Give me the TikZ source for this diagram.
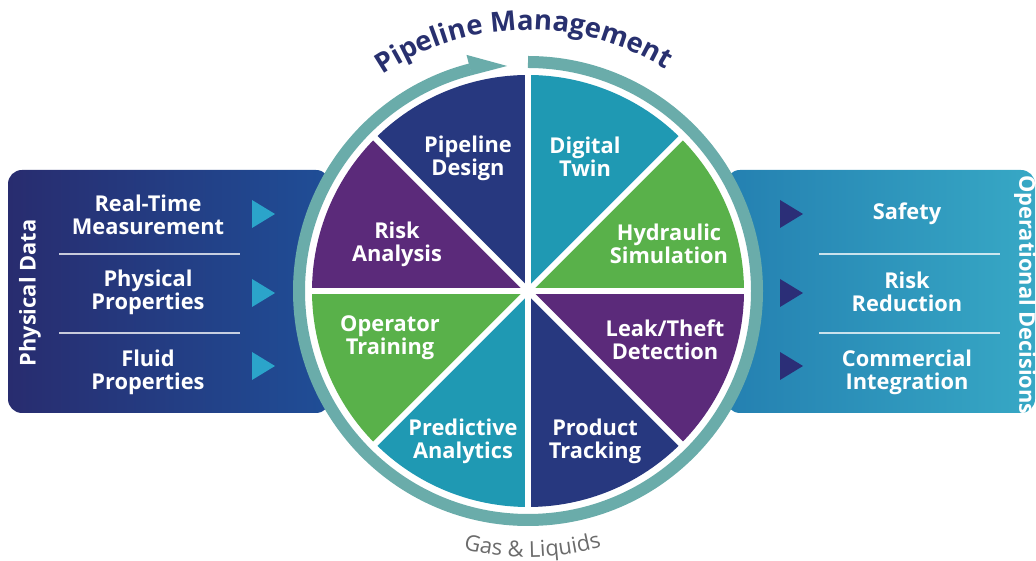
\documentclass[tikz,border=0pt]{standalone}
\usepackage{fontspec}
\setmainfont{Open Sans}
\usetikzlibrary{calc,decorations.text}
\definecolor{navy}{HTML}{27387F}
\definecolor{purp}{HTML}{5B2A7A}
\definecolor{grn}{HTML}{59B14A}
\definecolor{teal}{HTML}{1F99B3}
\definecolor{ring}{HTML}{6AACAA}
\definecolor{lpL}{HTML}{282C6F}
\definecolor{lpR}{HTML}{1F4E97}
\definecolor{rpL}{HTML}{2480B1}
\definecolor{rpR}{HTML}{37A8C5}
\definecolor{ltri}{HTML}{2BA4CA}
\definecolor{rtri}{HTML}{2B2E77}
\definecolor{titlenavy}{HTML}{28306F}
\definecolor{gasgray}{HTML}{6B6B6B}
\begin{document}
\begin{tikzpicture}[x=1pt,y=1pt,
  lbl/.style={text=white,font=\bfseries\fontsize{21.8}{23}\selectfont,align=center,inner sep=0pt},
  sidelbl/.style={text=white,font=\bfseries\fontsize{21.8}{23}\selectfont,align=center,inner sep=0pt},
  sep/.style={white,opacity=0.75,line width=1.3pt},
  gap/.style={white,line width=6pt},
  ringline/.style={ring,line width=12pt}]
\useasboundingbox (0,0) rectangle (1036,561);
\coordinate (C) at (528,270);
% side panels
\shade[left color=lpL,right color=lpR,rounded corners=14pt] (8,148) rectangle (330,391);
\shade[left color=rpL,right color=rpR,rounded corners=14pt] (726,148) rectangle (1035,391);
% white disk and ring
\fill[white] (C) circle[radius=224];
\draw[ringline] ($(C)+(90:229)$) arc[start angle=90,end angle=-255.5,radius=229];
\fill[ring] ($(C)+(104.6:223)$) -- ($(C)+(104.6:244)$) -- ($(C)+(95.3:226)$) -- cycle;
% sectors
\fill[navy] (C) -- ($(C)+(90:216)$) arc[start angle=90,end angle=135,radius=216] -- cycle;
\fill[purp] (C) -- ($(C)+(135:216)$) arc[start angle=135,end angle=180,radius=216] -- cycle;
\fill[grn] (C) -- ($(C)+(180:216)$) arc[start angle=180,end angle=225,radius=216] -- cycle;
\fill[teal] (C) -- ($(C)+(225:216)$) arc[start angle=225,end angle=270,radius=216] -- cycle;
\fill[navy] (C) -- ($(C)+(270:216)$) arc[start angle=270,end angle=315,radius=216] -- cycle;
\fill[purp] (C) -- ($(C)+(315:216)$) arc[start angle=315,end angle=360,radius=216] -- cycle;
\fill[grn] (C) -- ($(C)+(0:216)$) arc[start angle=0,end angle=45,radius=216] -- cycle;
\fill[teal] (C) -- ($(C)+(45:216)$) arc[start angle=45,end angle=90,radius=216] -- cycle;
\draw[gap] ($(C)+(0:218)$) -- ($(C)+(180:218)$);
\draw[gap] ($(C)+(45:218)$) -- ($(C)+(225:218)$);
\draw[gap] ($(C)+(90:218)$) -- ($(C)+(270:218)$);
\draw[gap] ($(C)+(135:218)$) -- ($(C)+(315:218)$);
% sector labels
\node[lbl] (pd) at (468,403) {Pipeline\\Design};
\node[lbl] (dt) at (585,404) {Digital\\Twin};
\node[lbl] (ra) at (397,317) {Risk\\Analysis};
\node[lbl] (hs) at (669,317) {Hydraulic\\Simulation};
\node[lbl] (ot) at (390,223) {Operator\\Training};
\node[lbl] (ld) at (665,221) {Leak/Theft\\Detection};
\node[lbl] (pa) at (463,120) {Predictive\\Analytics};
\node[lbl] (pt) at (595,120) {Product\\Tracking};
% left panel
\node[sidelbl,rotate=90] (phd) at (30,268) {Physical Data};
\node[sidelbl] (rtm) at (148,346) {Real-Time\\Measurement};
\node[sidelbl] (pp) at (148,269) {Physical\\Properties};
\node[sidelbl] (fp) at (148,189) {Fluid\\Properties};
\draw[sep] (59,307) -- (240,307);
\draw[sep] (59,228) -- (240,228);
\fill[ltri] (252,361) -- (275,347) -- (252,333) -- cycle;
\fill[ltri] (252,282) -- (275,268) -- (252,254) -- cycle;
\fill[ltri] (252,209) -- (275,195) -- (252,181) -- cycle;
% right panel
\node[sidelbl,rotate=-90] (opd) at (1025,266) {Operational Decisions};
\node[sidelbl] (saf) at (907,347) {Safety};
\node[sidelbl] (rr) at (907,269) {Risk\\Reduction};
\node[sidelbl] (ci) at (907,189) {Commercial\\Integration};
\draw[sep] (819,307) -- (1000,307);
\draw[sep] (819,228) -- (1000,228);
\fill[rtri] (780,361) -- (803,347) -- (780,333) -- cycle;
\fill[rtri] (780,282) -- (803,268) -- (780,254) -- cycle;
\fill[rtri] (780,209) -- (803,195) -- (780,181) -- cycle;
% curved titles
\path[decorate,decoration={text along path,text align=center,
  text={|\color{titlenavy}\bfseries\fontsize{27.5}{27.5}\selectfont|Pipeline Management}}]
  ($(C)+(151:261)$) arc[start angle=151,end angle=31,radius=261];
\path[decorate,decoration={text along path,text align=center,
  text={|\color{gasgray}\fontsize{22}{22}\selectfont|Gas {\&} Liquids}}]
  ($(C)+(231:266)$) arc[start angle=231,end angle=311,radius=266];
\end{tikzpicture}
\end{document}
